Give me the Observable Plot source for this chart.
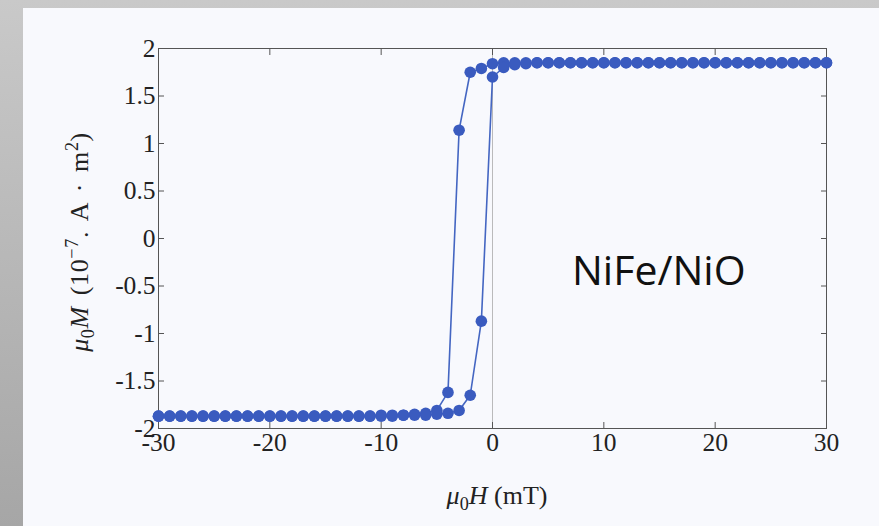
<!DOCTYPE html>
<html>
<head>
<meta charset="utf-8">
<script src="https://cdn.jsdelivr.net/npm/d3@7"></script>
<script src="https://cdn.jsdelivr.net/npm/@observablehq/plot@0.6"></script>
<style>
  html, body { margin: 0; padding: 0; }
  body { width: 879px; height: 526px; overflow: hidden; background: linear-gradient(to bottom, #c9c9c9, #a6a6a6); }
  #wrap { position: relative; width: 879px; height: 526px; }
  #page { position: absolute; left: 23px; top: 8px; right: 0; bottom: 0; background: #f8f9fd; }
  #chart { position: absolute; left: 0; top: 0; }
  #chart svg text { font-family: "Liberation Serif", serif; font-size: 25.5px; fill: #222; }
  .lbl { position: absolute; font-family: "Liberation Serif", serif; color: #222; font-size: 26px; white-space: nowrap; line-height: 1; }
  #xlab { left: 497px; top: 483px; transform: translateX(-50%); }
  #ylab { left: 80px; top: 242px; transform: translate(-50%, -50%) rotate(-90deg); word-spacing: 4px; letter-spacing: 0.6px; }
  #note { position: absolute; left: 572px; top: 243px; font-family: "Open Sans", sans-serif; font-size: 41px; color: #111; line-height: 1.3; }
  sub, sup { font-size: 0.7em; }
</style>
</head>
<body>
<div id="wrap">
  <div id="page"></div>
  <div id="chart"></div>
  <div class="lbl" id="xlab"><i>μ</i><sub>0</sub><i>H</i> (mT)</div>
  <div class="lbl" id="ylab"><i>μ</i><sub>0</sub><i>M</i> (10<sup>−7</sup>. A · m<sup>2</sup>)</div>
  <div id="note">NiFe/NiO</div>
</div>
<script>
// Descending branch (field swept from +30 to -30 mT)
const hDown = [30,29,28,27,26,25,24,23,22,21,20,19,18,17,16,15,14,13,12,11,10,9,8,7,6,5,4,3,2,1,0,-1,-2,-3,-4,-5,-6,-7,-8,-9,-10,-11,-12,-13,-14,-15,-16,-17,-18,-19,-20,-21,-22,-23,-24,-25,-26,-27,-28,-29,-30];
const mDown = [1.85,1.85,1.85,1.85,1.85,1.85,1.85,1.85,1.85,1.85,1.85,1.85,1.85,1.85,1.85,1.85,1.85,1.85,1.85,1.85,1.85,1.85,1.85,1.85,1.85,1.85,1.85,1.85,1.85,1.85,1.84,1.79,1.75,1.14,-1.62,-1.81,-1.84,-1.85,-1.86,-1.86,-1.86,-1.87,-1.87,-1.87,-1.87,-1.87,-1.87,-1.87,-1.87,-1.87,-1.87,-1.87,-1.87,-1.87,-1.87,-1.87,-1.87,-1.87,-1.87,-1.87,-1.87];
// Ascending branch (field swept from -30 to +30 mT)
const hUp = [-30,-29,-28,-27,-26,-25,-24,-23,-22,-21,-20,-19,-18,-17,-16,-15,-14,-13,-12,-11,-10,-9,-8,-7,-6,-5,-4,-3,-2,-1,0,1,2,3,4,5,6,7,8,9,10,11,12,13,14,15,16,17,18,19,20,21,22,23,24,25,26,27,28,29,30];
const mUp = [-1.87,-1.87,-1.87,-1.87,-1.87,-1.87,-1.87,-1.87,-1.87,-1.87,-1.87,-1.87,-1.87,-1.87,-1.87,-1.87,-1.87,-1.87,-1.87,-1.87,-1.87,-1.87,-1.86,-1.86,-1.86,-1.85,-1.84,-1.81,-1.65,-0.87,1.70,1.80,1.83,1.84,1.85,1.85,1.85,1.85,1.85,1.85,1.85,1.85,1.85,1.85,1.85,1.85,1.85,1.85,1.85,1.85,1.85,1.85,1.85,1.85,1.85,1.85,1.85,1.85,1.85,1.85,1.85];

const xTicks = [-30,-20,-10,0,10,20,30];
const yTicks = [-2,-1.5,-1,-0.5,0,0.5,1,1.5,2];

const down = hDown.map((h, i) => ({h, m: mDown[i]}));
const up = hUp.map((h, i) => ({h, m: mUp[i]}));

const lineColor = "#4466c2";
const dotColor = "#3a5bbf";
const fmt = d => String(d);

const chart = Plot.plot({
  width: 879,
  height: 526,
  marginLeft: 158,
  marginRight: 53,
  marginTop: 48,
  marginBottom: 98,
  style: {background: "transparent", fontFamily: "Liberation Serif, serif", fontSize: "25px", color: "#222"},
  x: {domain: [-30, 30]},
  y: {domain: [-2, 2]},
  marks: [
    Plot.ruleX([0], {stroke: "#aaa", strokeWidth: 0.8}),
    Plot.frame({stroke: "#555", strokeWidth: 1}),
    Plot.axisX(xTicks, {anchor: "bottom", tickSize: 0, tickPadding: 4, tickFormat: fmt, label: null}),
    Plot.axisX(xTicks, {anchor: "bottom", tickSize: -6, tickFormat: () => "", label: null, stroke: "#555"}),
    Plot.axisX(xTicks, {anchor: "top", tickSize: -6, tickFormat: () => "", label: null, stroke: "#555"}),
    Plot.axisY(yTicks, {anchor: "left", tickSize: 0, tickPadding: 3, tickFormat: fmt, label: null}),
    Plot.axisY(yTicks, {anchor: "left", tickSize: -6, tickFormat: () => "", label: null, stroke: "#555"}),
    Plot.axisY(yTicks, {anchor: "right", tickSize: -6, tickFormat: () => "", label: null, stroke: "#555"}),
    Plot.line(down, {x: "h", y: "m", stroke: lineColor, strokeWidth: 1.6}),
    Plot.line(up, {x: "h", y: "m", stroke: lineColor, strokeWidth: 1.6}),
    Plot.dot(down, {x: "h", y: "m", r: 5.8, fill: dotColor}),
    Plot.dot(up, {x: "h", y: "m", r: 5.8, fill: dotColor})
  ]
});
document.getElementById("chart").appendChild(chart);
</script>
</body>
</html>
